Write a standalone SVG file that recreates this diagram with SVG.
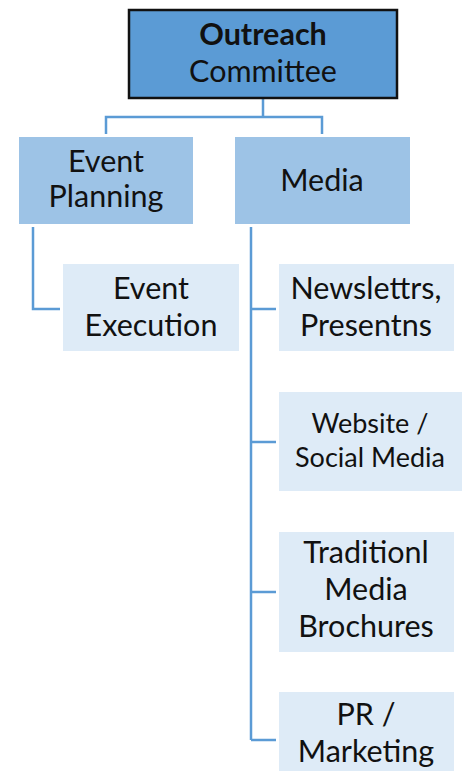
<svg xmlns="http://www.w3.org/2000/svg" width="464" height="771" viewBox="0 0 464 771">
<style>
.t{font-family:Lato,"Open Sans","Liberation Sans",sans-serif;font-size:30.5px;fill:#111;text-anchor:middle}
.b{font-weight:bold}
.s{font-size:27px}
.l1{fill:#5b9bd5;stroke:#111;stroke-width:2.5}
.l2{fill:#9dc3e6}
.l3{fill:#deebf7}
.c{fill:none;stroke:#5b9bd5;stroke-width:2.5}
</style>
<rect width="464" height="771" fill="#fff"/>
<g id="connectors">
<path class="c" d="M263 99V117M106 134V117H322V134"/>
<path class="c" d="M33 227V309H60"/>
<path class="c" d="M251 227V740M251 309H276M251 442H276M251 592H276M251 740H276"/>
</g>
<g id="outreach"><rect class="l1" x="129" y="10" width="268" height="88"/>
<text class="t b" x="263" y="45">Outreach</text><text class="t" x="263" y="82">Committee</text></g>
<g id="event-planning"><rect class="l2" x="19" y="137" width="174" height="87"/>
<text class="t" x="106" y="172">Event</text><text class="t" x="106" y="207">Planning</text></g>
<g id="media"><rect class="l2" x="235" y="137" width="175" height="87"/>
<text class="t" x="322" y="191">Media</text></g>
<g id="event-execution"><rect class="l3" x="63" y="264" width="176" height="87"/>
<text class="t" x="151" y="299">Event</text><text class="t" x="151" y="336">Execution</text></g>
<g id="newsletters"><rect class="l3" x="279" y="264" width="175" height="87"/>
<text class="t" x="366" y="299">Newslettrs,</text><text class="t" x="366" y="336">Presentns</text></g>
<g id="website"><rect class="l3" x="279" y="392" width="183" height="99"/>
<text class="t s" x="370" y="433">Website /</text><text class="t s" x="370" y="467">Social Media</text></g>
<g id="traditional"><rect class="l3" x="279" y="532" width="175" height="120"/>
<text class="t" x="366" y="563">Traditionl</text><text class="t" x="366" y="600">Media</text><text class="t" x="366" y="637">Brochures</text></g>
<g id="pr"><rect class="l3" x="279" y="692" width="175" height="79"/>
<text class="t" x="366" y="725">PR /</text><text class="t" x="366" y="762">Marketing</text></g>
</svg>
